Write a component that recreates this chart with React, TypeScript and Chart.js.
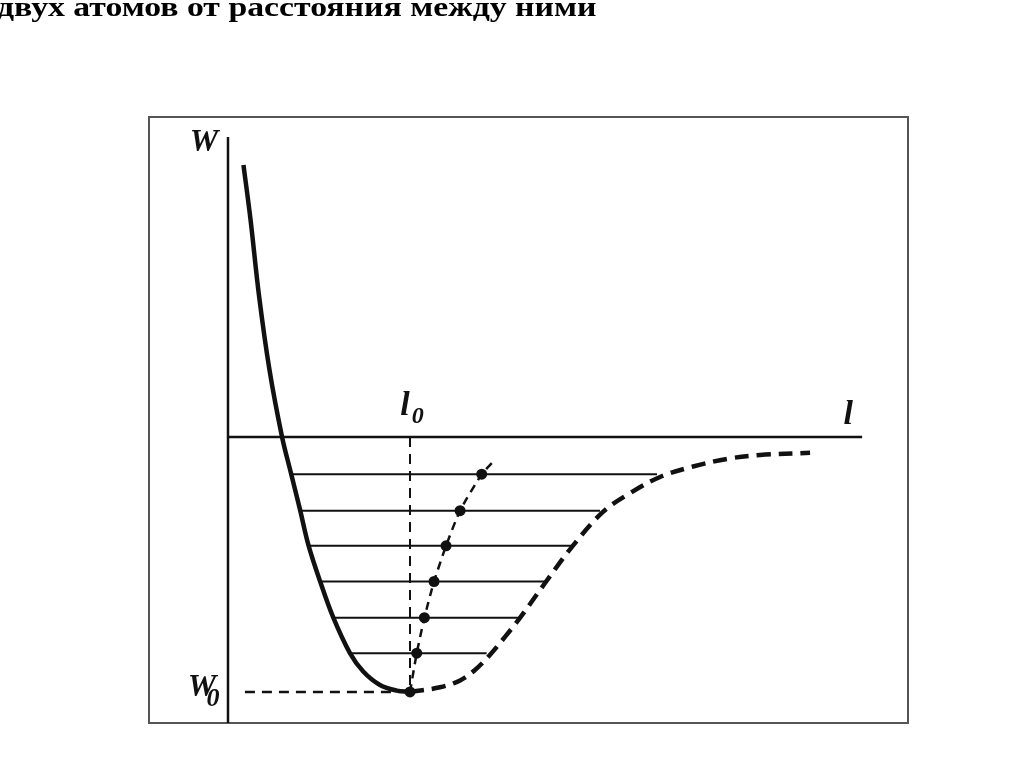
import React, { useEffect, useRef } from "react";
import { Chart, registerables } from "chart.js";

Chart.register(...registerables);

// Units: l measured in l0 (l0 = 1), W measured in |W0| (W0 = -1)
const titleText = "двух атомов от расстояния между ними";

// Repulsive (solid) branch of the potential curve
const leftCurveL = [0.085, 0.124, 0.17, 0.228, 0.297, 0.346, 0.396, 0.442, 0.505, 0.577, 0.67, 0.743, 0.835, 0.927, 1.0];
const leftCurveW = [1.067, 0.851, 0.557, 0.263, 0.0, -0.142, -0.286, -0.424, -0.564, -0.706, -0.848, -0.92, -0.973, -0.995, -1.0];

// Attractive (dashed) branch
const rightCurveL = [1.0, 1.165, 1.275, 1.357, 1.434, 1.522, 1.604, 1.742, 1.89, 2.06, 2.209, 2.374, 2.555, 2.742, 2.923, 3.198];
const rightCurveW = [-1.0, -0.982, -0.955, -0.914, -0.859, -0.784, -0.71, -0.573, -0.431, -0.294, -0.22, -0.157, -0.116, -0.086, -0.071, -0.062];

// Vibrational energy levels
const levelW = [-0.146, -0.289, -0.427, -0.567, -0.709, -0.848];
const levelLeftL = [0.35, 0.396, 0.441, 0.505, 0.579, 0.67];
const levelRightL = [2.357, 2.044, 1.888, 1.742, 1.614, 1.421];

// Mean positions (dots) on each level
const meanL = [1.449, 1.394, 1.275, 1.198, 1.132, 1.079, 1.037, 1.0];
const meanW = [-0.103, -0.146, -0.289, -0.427, -0.567, -0.709, -0.848, -1.0];
const meanIsDot = [false, true, true, true, true, true, true, true];

// Axes extents
const axisLEnd = 3.484;
const axisWTop = 1.177;
const l0 = 1.0;
const W0 = -1.0;
const w0DashStartL = 0.093;

// Scale range of the framed area
const L_MIN = -0.434;
const L_MAX = 3.736;
const W_MIN = -1.122;
const W_MAX = 1.255;

// Axis labels (text anchors in data units)
const labels = [
  { text: "W", l: -0.132, w: 1.153, size: 32 },
  { text: "l", l: 3.407, w: 0.085, size: 34 },
  { text: "l", l: 0.973, w: 0.122, size: 34 },
  { text: "0", l: 1.043, w: 0.078, size: 24 },
  { text: "W", l: -0.143, w: -0.985, size: 32 },
  { text: "0", l: -0.083, w: -1.03, size: 26 },
];

const INK = "#111";

const pts = (xs: number[], ys: number[]) => xs.map((x, i) => ({ x, y: ys[i] }));

const framePlugin = {
  id: "frameAndLabels",
  beforeDraw(chart: any) {
    const { ctx, chartArea: a } = chart;
    ctx.save();
    ctx.fillStyle = "#fff";
    ctx.fillRect(0, 0, chart.width, chart.height);
    ctx.strokeStyle = "#555";
    ctx.lineWidth = 2;
    ctx.strokeRect(a.left, a.top, a.right - a.left, a.bottom - a.top);
    ctx.restore();
  },
  afterDatasetsDraw(chart: any) {
    const { ctx } = chart;
    const xs = chart.scales.x;
    const ys = chart.scales.y;
    ctx.save();
    ctx.fillStyle = INK;
    ctx.textAlign = "center";
    ctx.textBaseline = "middle";
    labels.forEach((lb) => {
      ctx.font = `italic bold ${lb.size}px "Liberation Serif"`;
      ctx.fillText(lb.text, xs.getPixelForValue(lb.l), ys.getPixelForValue(lb.w));
    });
    ctx.restore();
  },
};

export default function App() {
  const ref = useRef<HTMLCanvasElement | null>(null);

  useEffect(() => {
    if (!ref.current) return;
    const base = { showLine: true, pointRadius: 0, borderColor: INK, backgroundColor: INK, fill: false };
    const datasets: any[] = [
      { ...base, data: [{ x: 0, y: 0 }, { x: axisLEnd, y: 0 }], borderWidth: 2.5 },
      { ...base, data: [{ x: 0, y: W_MIN }, { x: 0, y: axisWTop }], borderWidth: 2.5 },
      { ...base, data: [{ x: l0, y: 0 }, { x: l0, y: W0 }], borderWidth: 2, borderDash: [10, 7] },
      { ...base, data: [{ x: w0DashStartL, y: W0 }, { x: l0, y: W0 }], borderWidth: 2.5, borderDash: [10, 7] },
      ...levelW.map((w, i) => ({
        ...base,
        data: [{ x: levelLeftL[i], y: w }, { x: levelRightL[i], y: w }],
        borderWidth: 2,
      })),
      {
        ...base,
        data: pts(meanL, meanW),
        borderWidth: 2.5,
        borderDash: [8, 6],
        tension: 0.2,
        pointRadius: meanIsDot.map((d) => (d ? 5.5 : 0)),
        pointBorderWidth: 0,
      },
      { ...base, data: pts(leftCurveL, leftCurveW), borderWidth: 4.5, tension: 0.35 },
      { ...base, data: pts(rightCurveL, rightCurveW), borderWidth: 4.5, borderDash: [14, 8], tension: 0.35 },
    ];

    const chart = new Chart(ref.current, {
      type: "scatter",
      data: { datasets },
      options: {
        responsive: false,
        animation: false,
        layout: { padding: { left: 149, top: 117, right: 116, bottom: 45 } },
        plugins: { legend: { display: false }, tooltip: { enabled: false } },
        scales: {
          x: { type: "linear", min: L_MIN, max: L_MAX, display: false },
          y: { type: "linear", min: W_MIN, max: W_MAX, display: false },
        },
      },
      plugins: [framePlugin],
    } as any);
    return () => chart.destroy();
  }, []);

  return (
    <div style={{ position: "absolute", left: 0, top: 0, width: 1024, height: 768, background: "#fff", overflow: "hidden" }}>
      <canvas ref={ref} width={1024} height={768} style={{ position: "absolute", left: 0, top: 0 }} />
      <div
        style={{
          position: "absolute",
          left: -3,
          top: -7,
          font: 'bold 27px "Liberation Serif"',
          lineHeight: "28px",
          whiteSpace: "nowrap",
          color: "#000",
          transform: "scaleX(1.25)",
          transformOrigin: "0 0",
        }}
      >
        {titleText}
      </div>
    </div>
  );
}
